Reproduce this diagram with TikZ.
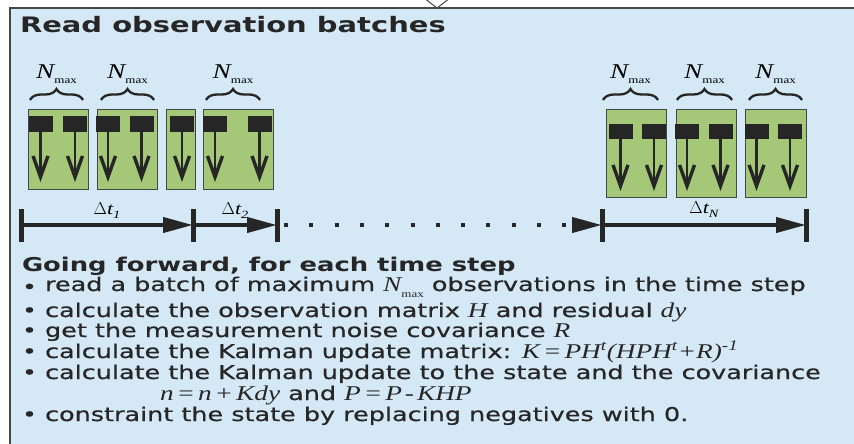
\documentclass[tikz,border=0pt]{standalone}
\usepackage{fontspec}
\setmainfont{DejaVu Sans}[UprightFeatures={FakeStretch=1.34, FakeBold=0.6},
                          BoldFeatures={FakeStretch=1.36}]
\newfontfamily\serifmath{Liberation Serif}[FakeStretch=1.3]
\usetikzlibrary{arrows.meta, decorations.pathreplacing, positioning}

\definecolor{panelblue}{RGB}{213,232,246}
\definecolor{batchgreen}{RGB}{164,200,120}
\definecolor{inkgray}{RGB}{38,38,38}

\newcommand{\sym}[1]{{\serifmath\itshape\fontsize{21}{21}\selectfont #1}}
\newcommand{\op}[1]{\hspace{3pt}#1\hspace{3pt}}
\newcommand{\maxsub}[1]{\raisebox{-#1}{\serifmath\fontsize{10}{10}\selectfont max}}
\newcommand{\dt}[1]{{\serifmath\fontsize{17}{17}\selectfont$\Delta$\itshape t\raisebox{-3.5pt}{\fontsize{11}{11}\selectfont #1}}}

\begin{document}
\begin{tikzpicture}[
  x=1pt, y=-1pt,
  every node/.style={inner sep=0pt, outer sep=0pt},
  panel/.style={draw=inkgray!85, line width=1.5pt, fill=panelblue},
  batch/.style={rectangle, draw=inkgray!85, line width=1pt, fill=batchgreen,
                minimum height=80pt},
  obs/.style={rectangle, fill=inkgray, minimum width=24pt, minimum height=16pt},
  drop/.style={-{Straight Barb[length=21pt,width=15pt,line width=3.4pt]}, line width=2.6pt, draw=inkgray},
  brace/.style={decorate, decoration={brace, amplitude=11pt}, line width=2.3pt, draw=inkgray},
  span/.style={-{Triangle[length=30pt,width=15pt]}, line width=4pt, draw=inkgray},
  gap/.style={span, dash pattern=on 4pt off 21.3pt, dash phase=18.3pt},
  tick/.style={line width=5pt, draw=inkgray},
  line/.style={anchor=base west, font=\fontsize{19}{19}\selectfont, text=inkgray}
]
\useasboundingbox (0,0) rectangle (854,444);
% panel and the tip above it
\draw[draw=inkgray!85, fill=white, line width=1pt] (424,-2) -- (437,8) -- (450,-2);
\draw[panel] (10,8) rectangle (870,460);
\node[anchor=base west, font=\bfseries\fontsize{21.3}{21.3}\selectfont, text=inkgray]
  (title) at (20,33) {Read observation batches};

% batches, left
\node[batch, minimum width=60pt] (b1) at (58,149) {};
\node[batch, minimum width=60pt] (b2) at (127,149) {};
\node[batch, minimum width=29pt] (b3) at (180.5,149) {};
\node[batch, minimum width=70pt] (b4) at (238,149) {};
% batches, right
\node[batch, minimum width=60pt, minimum height=88pt] (b5) at (636,153) {};
\node[batch, minimum width=60pt, minimum height=88pt] (b6) at (706,153) {};
\node[batch, minimum width=61pt, minimum height=88pt] (b7) at (775.5,153) {};

% observations
\foreach \x/\n in {40.5/a, 75/b, 108/c, 141.5/d, 182/e, 215/f, 259.5/g}{
  \node[obs] (o\n) at (\x,124) {};
  \draw[drop] (o\n.south) -- ++(0,50);
}
\foreach \x/\n in {620.5/h, 654/i, 687/j, 720.5/k, 756.5/l, 790/m}{
  \node[obs, minimum height=15pt] (o\n) at (\x,131.5) {};
  \draw[drop] (o\n.south) -- ++(0,52);
}

% braces
\foreach \xa/\xb in {30/83, 101/154, 206/260, 603/658, 677/732, 749/802}{
  \draw[brace] (\xa,100) -- (\xb,100)
    node[midway, above=16pt] {\sym{N}\maxsub{5pt}};
}

% time line
\coordinate (t0) at (21,225);
\coordinate (t1) at (193,225);
\coordinate (t2) at (277,225);
\coordinate (t3) at (602,225);
\coordinate (t4) at (806,225);
\foreach \t in {t0, t1, t2, t3, t4}
  \draw[tick] ([yshift=16pt]\t) -- ([yshift=-17pt]\t);
\draw[span] (t0) -- node[midway, above=7pt] {\dt{1}} (t1);
\draw[span] (t1) -- node[midway, above=7pt] {\dt{2}} (t2);
\draw[gap]  (t2) -- (t3);
\draw[span] (t3) -- node[midway, above=8pt] {\dt{N}} (t4);

% steps
\node[line, font=\bfseries\fontsize{19}{19}\selectfont] (l1) at (22,271) {Going forward, for each time step};
\node[line] (l2) at (22,291) {\raisebox{-2.5pt}{•} read a batch of maximum \sym{N}\maxsub{6pt} observations in the time step};
\node[line] (l3) at (22,317) {• calculate the observation matrix \sym{H} and residual \sym{dy}};
\node[line] (l4) at (22,337) {• get the measurement noise covariance \sym{R}};
\node[line] (l5) at (22,358) {• calculate the Kalman update matrix: \sym{K\op{=}PH\textsuperscript{t}(HPH\textsuperscript{t}+R)\textsuperscript{-1}}};
\node[line] (l6) at (22,379) {• calculate the Kalman update to the state and the covariance};
\node[line] (l7) at (160,400) {\sym{n\op{=}n\op{+}Kdy} and \sym{P\op{=}P\op{-}KHP}};
\node[line] (l8) at (22,421) {• constraint the state by replacing negatives with 0.};
\end{tikzpicture}
\end{document}
